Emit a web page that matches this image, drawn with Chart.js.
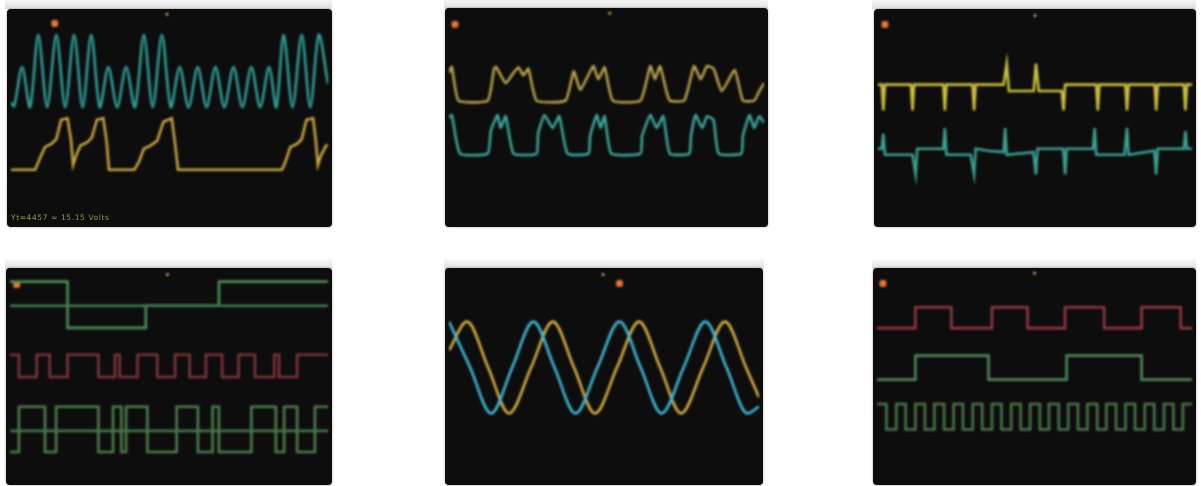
<!DOCTYPE html>
<html lang="en">
<head>
    <title>Scope captures</title>
    <meta charset="UTF-8">
    <script src="https://cdn.jsdelivr.net/npm/chart.js"></script>
    <style>
        body {
            margin: 0;
            background: #fff;
            width: 1201px;
            height: 486px;
            overflow: hidden;
            font-family: "DejaVu Sans", sans-serif;
        }
        .bezel {
            position: absolute;
            height: 9px;
            background: linear-gradient(#f6f6f6, #dedede);
        }
        .scope {
            position: absolute;
            background: #0d0d0d;
            border-radius: 4px;
            box-shadow: 0 0 2px rgba(0, 0, 0, 0.45);
            overflow: hidden;
        }
        .scope canvas {
            filter: blur(0.9px);
        }
        .readout {
            position: absolute;
            left: 4px;
            bottom: 5px;
            font-size: 7.5px;
            letter-spacing: 0.6px;
            color: #8f9c45;
            filter: blur(0.6px);
        }
    </style>
</head>
<body>
    <div class="bezel" style="left:5px;top:0;width:327px"></div>
    <div class="bezel" style="left:444px;top:0;width:324px"></div>
    <div class="bezel" style="left:872px;top:0;width:324px"></div>
    <div class="bezel" style="left:5px;top:260px;width:327px"></div>
    <div class="bezel" style="left:444px;top:260px;width:320px"></div>
    <div class="bezel" style="left:872px;top:260px;width:324px"></div>

    <div class="scope" style="left:7px;top:9px;width:325px;height:218px">
        <canvas id="s1"></canvas>
        <div class="readout">Yt=4457 ≈ 15.15 Volts</div>
    </div>
    <div class="scope" style="left:445px;top:8px;width:323px;height:219px"><canvas id="s2"></canvas></div>
    <div class="scope" style="left:874px;top:9px;width:322px;height:218px"><canvas id="s3"></canvas></div>
    <div class="scope" style="left:6px;top:268px;width:326px;height:217px"><canvas id="s4"></canvas></div>
    <div class="scope" style="left:445px;top:268px;width:318px;height:217px"><canvas id="s5"></canvas></div>
    <div class="scope" style="left:873px;top:268px;width:323px;height:217px"><canvas id="s6"></canvas></div>

    <script>
        // all traces in scope divisions: x 0..10, y 0..8 (bottom to top)

        // scope 1
        const s1Cyan = [[0, 4.6], [0.1, 4.45], [0.35, 5.94], [0.6, 4.41], [0.86, 7.17], [1.14, 4.41], [1.43, 7.17],
            [1.71, 4.41], [1.99, 7.17], [2.26, 4.41], [2.53, 7.17], [2.8, 4.41], [3.07, 5.94], [3.35, 4.41],
            [3.63, 5.94], [3.91, 4.41], [4.19, 7.17], [4.47, 4.41], [4.76, 7.17], [5.04, 4.41], [5.32, 5.94],
            [5.6, 4.41], [5.89, 5.94], [6.17, 4.41], [6.45, 5.94], [6.73, 4.41], [7.02, 5.94], [7.3, 4.41],
            [7.58, 5.94], [7.86, 4.41], [8.14, 5.94], [8.37, 4.41], [8.6, 7.17], [8.88, 4.41], [9.17, 7.17],
            [9.44, 4.41], [9.71, 7.17], [10, 5.3]];
        const s1Yellow = [[0, 2.03], [0.76, 2.03], [0.91, 2.46], [1.07, 2.89], [1.27, 3.01], [1.43, 3.19], [1.58, 3.93],
            [1.78, 3.99], [1.89, 3.19], [1.96, 2.21], [2.06, 2.58], [2.19, 2.95], [2.4, 3.07], [2.55, 3.25],
            [2.71, 3.93], [2.91, 3.99], [3.02, 3.07], [3.09, 2.03], [3.89, 2.03], [4.04, 2.34], [4.19, 2.83],
            [4.4, 2.95], [4.61, 3.13], [4.81, 3.86], [5.07, 3.99], [5.17, 3.07], [5.27, 2.03], [8.55, 2.03],
            [8.66, 2.34], [8.81, 2.89], [9.02, 3.01], [9.17, 3.19], [9.32, 3.93], [9.53, 3.99], [9.61, 3.19],
            [9.68, 2.21], [9.78, 2.58], [9.94, 2.95], [10, 2.95]];
        const s1Marks = [[1.38, 7.6], [4.92, 7.95]];

        // scope 2
        const s2Yellow = [[0, 5.7], [0.09, 5.92], [0.3, 4.64], [1.23, 4.64], [1.43, 5.85], [1.49, 5.92], [1.8, 5.3],
            [2.05, 5.7], [2.21, 5.9], [2.36, 5.6], [2.52, 5.85], [2.78, 4.64], [3.7, 4.64], [3.96, 5.75],
            [4.17, 5.05], [4.58, 5.95], [4.74, 5.45], [4.94, 5.9], [5.2, 4.64], [6.08, 4.64], [6.39, 5.95],
            [6.54, 5.45], [6.7, 5.95], [6.9, 5.0], [7.01, 4.64], [7.47, 4.64], [7.78, 5.95], [7.99, 5.45],
            [8.19, 5.95], [8.4, 5.85], [8.66, 5.0], [9.07, 5.8], [9.33, 4.64], [9.69, 4.64], [9.85, 5.0], [10, 5.3]];
        const s2Cyan = [[0, 4.0], [0.09, 4.09], [0.35, 2.63], [1.23, 2.63], [1.33, 3.5], [1.54, 4.09], [1.64, 3.6],
            [1.8, 4.05], [2.05, 2.63], [2.78, 2.63], [2.83, 3.4], [3.03, 4.09], [3.29, 3.6], [3.5, 4.05],
            [3.76, 2.63], [4.43, 2.63], [4.48, 3.3], [4.69, 4.09], [4.81, 3.6], [4.94, 4.05], [5.15, 2.63],
            [6.08, 2.63], [6.13, 3.3], [6.39, 4.09], [6.59, 3.6], [6.8, 4.05], [7.01, 2.63], [7.63, 2.63],
            [7.68, 3.3], [7.83, 4.09], [8.04, 3.6], [8.19, 4.05], [8.4, 3.9], [8.56, 2.63], [9.28, 2.63],
            [9.33, 3.3], [9.54, 4.09], [9.69, 3.6], [9.85, 4.05], [10, 3.8]];
        const s2Marks = [[0.19, 7.53], [5.1, 7.95]];

        // scope 3
        const s3Yellow = [[0, 5.27], [0.12, 5.27], [0.17, 4.29], [0.22, 5.27], [1.05, 5.27], [1.1, 4.29], [1.15, 5.27],
            [2.08, 5.27], [2.13, 4.29], [2.18, 5.27], [3.01, 5.27], [3.06, 4.29], [3.11, 5.27], [4.0, 5.27],
            [4.1, 6.07], [4.17, 5.03], [4.96, 5.03], [5.03, 6.07], [5.12, 5.03], [5.85, 5.03], [5.91, 4.29],
            [5.96, 5.27], [6.95, 5.27], [7.0, 4.29], [7.05, 5.27], [7.88, 5.27], [7.93, 4.29], [7.98, 5.27],
            [8.81, 5.27], [8.86, 4.29], [8.91, 5.27], [9.74, 5.27], [9.79, 4.29], [9.84, 5.27], [10, 5.27]];
        const s3Cyan = [[0, 2.83], [0.12, 2.83], [0.17, 3.4], [0.22, 2.6], [1.1, 2.6], [1.2, 1.85], [1.25, 2.83],
            [2.08, 2.83], [2.13, 3.62], [2.18, 2.6], [2.95, 2.6], [3.06, 1.85], [3.11, 2.83], [3.5, 2.75],
            [4.0, 2.7], [4.05, 3.62], [4.1, 2.6], [4.95, 2.7], [5.03, 1.85], [5.08, 2.83], [5.9, 2.83],
            [5.96, 1.85], [6.01, 2.83], [6.85, 2.83], [6.9, 3.62], [6.95, 2.6], [7.85, 2.6], [7.93, 3.62],
            [7.98, 2.6], [8.8, 2.75], [8.86, 1.85], [8.91, 2.83], [9.74, 2.83], [9.79, 3.5], [9.84, 2.83], [10, 2.83]];
        const s3Marks = [[0.22, 7.56], [5.0, 7.9]];

        // scope 4 (logic, edges: [time, new level])
        const s4Top = [[0, 7.63], [1.81, 5.86], [4.27, 6.71], [6.57, 7.63], [10, 7.63]];
        const s4Ref = [[0, 6.71], [10, 6.71]];
        const s4Red = [[0, 4.83], [0.28, 3.98], [0.84, 4.83], [1.25, 3.98], [1.81, 4.83], [2.78, 3.98], [3.3, 4.83],
            [3.45, 3.98], [4.01, 4.83], [4.63, 3.98], [5.19, 4.83], [5.65, 3.98], [6.16, 4.83], [6.67, 3.98],
            [7.19, 4.83], [7.7, 3.98], [8.31, 4.83], [8.46, 3.98], [9.03, 4.83], [10, 4.83]];
        const s4Bottom = [[0, 1.11], [0.28, 2.84], [1.1, 1.11], [1.45, 2.84], [2.78, 1.11], [3.24, 2.84], [3.5, 1.11],
            [3.65, 2.84], [4.32, 1.11], [5.24, 2.84], [5.91, 1.11], [6.37, 2.84], [6.57, 1.11], [7.59, 2.84],
            [8.36, 1.11], [8.62, 2.84], [9.03, 1.11], [9.59, 2.84], [10, 2.84]];
        const s4Mid = [[0, 1.92], [10, 1.92]];
        const s4Marks = [[0.21, 7.52], [4.95, 7.9]];

        // scope 5
        const s5Cyan = [[0, 6.1], [0.68, 4.35], [1.36, 2.59], [2.04, 4.35], [2.72, 6.1], [3.4, 4.35], [4.08, 2.59],
            [4.79, 4.35], [5.5, 6.1], [6.18, 4.35], [6.86, 2.59], [7.57, 4.35], [8.27, 6.1], [8.95, 4.35],
            [9.63, 2.59], [10, 2.85]];
        const s5Yellow = [[0, 5.0], [0.58, 6.1], [1.26, 4.35], [1.94, 2.59], [2.65, 4.35], [3.35, 6.1], [4.03, 4.35],
            [4.71, 2.59], [5.42, 4.35], [6.13, 6.1], [6.81, 4.35], [7.49, 2.59], [8.2, 4.35], [8.9, 6.1],
            [9.58, 4.35], [10, 3.2]];
        const s5Marks = [[5.5, 7.56], [4.97, 7.9]];

        // scope 6
        const s6Red = [[0, 5.85], [1.22, 6.65], [2.36, 5.85], [3.65, 6.65], [4.78, 5.85], [5.97, 6.65], [7.21, 5.85],
            [8.4, 6.65], [9.64, 5.85], [10, 5.85]];
        const s6Green = [[0, 3.88], [1.22, 4.8], [3.54, 3.88], [6.02, 4.8], [8.4, 3.88], [10, 3.88]];
        const s6Clock = [[0, 2.95], [0.3, 1.97], [0.61, 2.95], [0.91, 1.97], [1.22, 2.95], [1.52, 1.97], [1.82, 2.95],
            [2.13, 1.97], [2.43, 2.95], [2.73, 1.97], [3.04, 2.95], [3.34, 1.97], [3.65, 2.95], [3.95, 1.97],
            [4.26, 2.95], [4.56, 1.97], [4.86, 2.95], [5.17, 1.97], [5.46, 2.95], [5.77, 1.97], [6.07, 2.95],
            [6.38, 1.97], [6.68, 2.95], [6.99, 1.97], [7.28, 2.95], [7.59, 1.97], [7.89, 2.95], [8.19, 1.97],
            [8.5, 2.95], [8.8, 1.97], [9.11, 2.95], [9.41, 1.97], [9.71, 2.95], [10, 2.95]];
        const s6Marks = [[0.19, 7.56], [5.0, 7.95]];

        function trace(pairs, color, mode, tension) {
            var ds = {
                data: pairs.map(function (p) { return { x: p[0], y: p[1] }; }),
                borderColor: color,
                borderWidth: 2.6,
                pointRadius: 0,
                tension: 0
            };
            if (mode === 'step') ds.stepped = 'before';
            if (mode === 'smooth') ds.tension = tension;
            if (mode === 'sine') ds.cubicInterpolationMode = 'monotone';
            return ds;
        }

        function marks(pairs) {
            return {
                data: pairs.map(function (p) { return { x: p[0], y: p[1] }; }),
                showLine: false,
                pointStyle: 'rectRounded',
                pointRadius: [4, 1.6],
                backgroundColor: ['#e8772e', '#d8a070'],
                borderWidth: 0
            };
        }

        function scope(id, datasets) {
            new Chart(document.getElementById(id), {
                type: 'line',
                data: { datasets: datasets },
                options: {
                    responsive: true,
                    maintainAspectRatio: false,
                    animation: false,
                    layout: { padding: 0 },
                    plugins: { legend: { display: false }, tooltip: { enabled: false } },
                    scales: {
                        x: { type: 'linear', min: 0, max: 10, display: false },
                        y: { min: 0, max: 8, display: false }
                    }
                }
            });
        }

        scope('s1', [trace(s1Cyan, '#2f9f98', 'smooth', 0.3), trace(s1Yellow, '#c9a63e'), marks(s1Marks)]);
        scope('s2', [trace(s2Yellow, '#b9a24a', 'smooth', 0.15), trace(s2Cyan, '#3aa79c', 'smooth', 0.15), marks(s2Marks)]);
        scope('s3', [trace(s3Yellow, '#cdbf3c'), trace(s3Cyan, '#3aa193'), marks(s3Marks)]);
        scope('s4', [trace(s4Ref, '#3f7f52', 'step'), trace(s4Top, '#4f8f55', 'step'), trace(s4Red, '#7f3539', 'step'),
            trace(s4Mid, '#46764a', 'step'), trace(s4Bottom, '#4e7f4b', 'step'), marks(s4Marks)]);
        scope('s5', [trace(s5Cyan, '#3db9d8', 'sine'), trace(s5Yellow, '#d5ae3f', 'sine'), marks(s5Marks)]);
        scope('s6', [trace(s6Red, '#94393f', 'step'), trace(s6Green, '#4f8a56', 'step'), trace(s6Clock, '#4b7649', 'step'),
            marks(s6Marks)]);
    </script>
</body>
</html>
